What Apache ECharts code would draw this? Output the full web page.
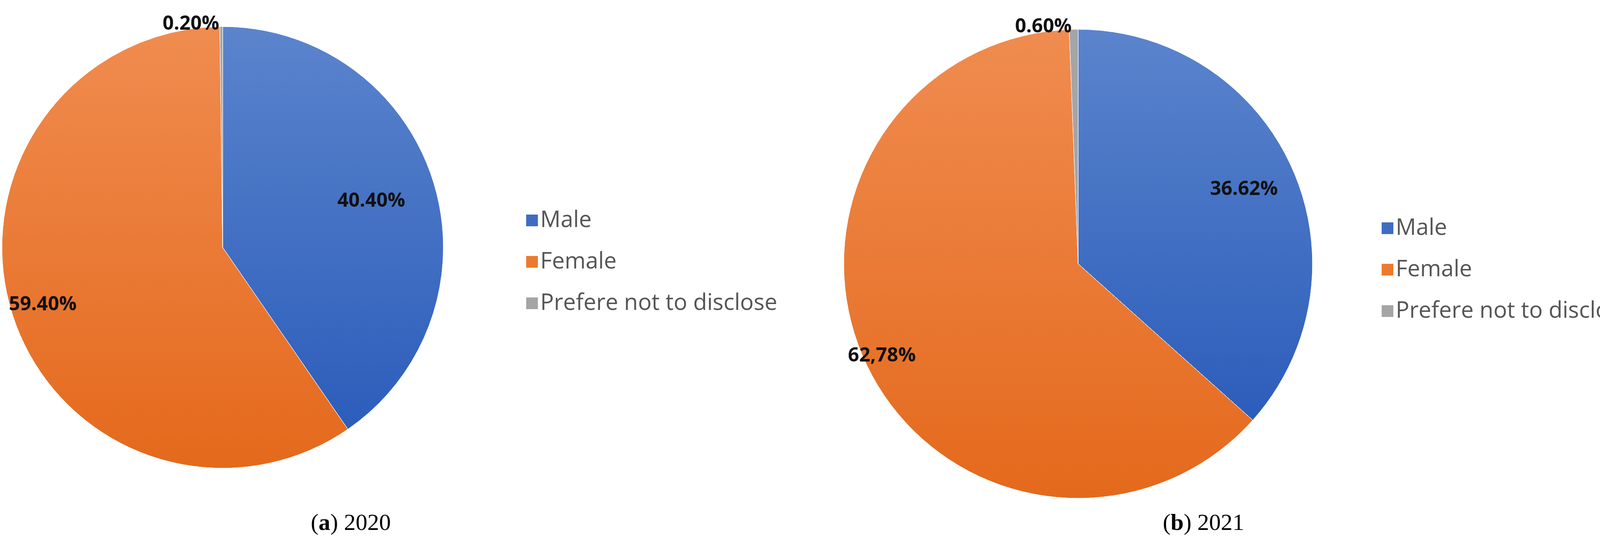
<!DOCTYPE html>
<html>
<head>
<meta charset="utf-8">
<script src="https://cdn.jsdelivr.net/npm/echarts@6/dist/echarts.min.js"></script>
<style>html,body{margin:0;background:#fff}#main{width:4306px;height:1415px}</style>
</head>
<body>
<div id="main"></div>
<script>
var categories = ['Male', 'Female', 'Prefere not to disclose'];
var values2020 = [40.40, 59.40, 0.20];
var values2021 = [36.62, 62.78, 0.60];
var labels2020 = ['40.40%', '59.40%', '0.20%'];
var labels2021 = ['36.62%', '62,78%', '0.60%'];

window.onload = function () {
    var myChart = echarts.init(document.getElementById('main'));

    var colors = [
        new echarts.graphic.LinearGradient(0, 0, 0, 1, [{offset: 0, color: '#5b84cc'}, {offset: 1, color: '#2c5dbb'}]),
        new echarts.graphic.LinearGradient(0, 0, 0, 1, [{offset: 0, color: '#f08c50'}, {offset: 1, color: '#e4691c'}]),
        '#a5a5a5'
    ];
    var legendColors = ['#3f6cc2', '#ec7a30', '#a5a5a5'];

    // push inside labels outward to a fraction of the radius
    function makeData(vals, labels, radius, fracs) {
        var total = vals.reduce(function (a, b) { return a + b; }, 0);
        var acc = 0;
        return vals.map(function (v, i) {
            var mid = (acc + v / 2) / total * 2 * Math.PI;
            acc += v;
            var item = {
                value: v, name: categories[i],
                itemStyle: {color: colors[i]},
                label: {formatter: labels[i]}
            };
            if (i === 2) {
                item.label.position = 'outside';
                item.labelLine = {show: false};
            } else {
                var extra = (fracs[i] - 0.5) * radius;
                item.label.offset = [Math.sin(mid) * extra, -Math.cos(mid) * extra];
            }
            return item;
        });
    }

    function makeSeries(center, radius, vals, labels, fracs) {
        return {
            type: 'pie',
            center: center,
            radius: radius,
            startAngle: 90,
            clockwise: true,
            avoidLabelOverlap: false,
            silent: true,
            itemStyle: {borderColor: '#ffffff', borderWidth: 1},
            label: {
                show: true, position: 'inside',
                fontFamily: 'Open Sans', fontWeight: 'bold', fontSize: 50, color: '#111'
            },
            labelLine: {show: false, length: 6, length2: 0},
            data: makeData(vals, labels, radius, fracs)
        };
    }

    function makeLegend(left, top) {
        return {
            orient: 'vertical', left: left, top: top,
            icon: 'rect', itemWidth: 32, itemHeight: 32, itemGap: 48,
            textStyle: {fontFamily: 'Open Sans', fontSize: 58, color: '#555'},
            data: categories.map(function (c, i) {
                return {name: c, itemStyle: {color: legendColors[i]}};
            })
        };
    }

    var capStyle = {fontFamily: 'Liberation Serif', fontSize: 60, fontWeight: 'normal', color: '#000'};
    var capBold = Object.assign({}, capStyle, {fontWeight: 'bold'});
    var option = {
        title: [
            {text: '({b|a}) 2020', left: 893, top: 1305, textAlign: 'center',
             textStyle: Object.assign({rich: {b: capBold}}, capStyle)},
            {text: '({b|b}) 2021', left: 3076, top: 1305, textAlign: 'center',
             textStyle: Object.assign({rich: {b: capBold}}, capStyle)}
        ],
        legend: [makeLegend(1340, 530), makeLegend(3530, 550)],
        series: [
            makeSeries([570, 633], 565, values2020, labels2020, [0.7, 0.85]),
            makeSeries([2760, 675], 600, values2021, labels2021, [0.77, 0.92])
        ]
    };

    myChart.setOption(option);
};
</script>
</body>
</html>
